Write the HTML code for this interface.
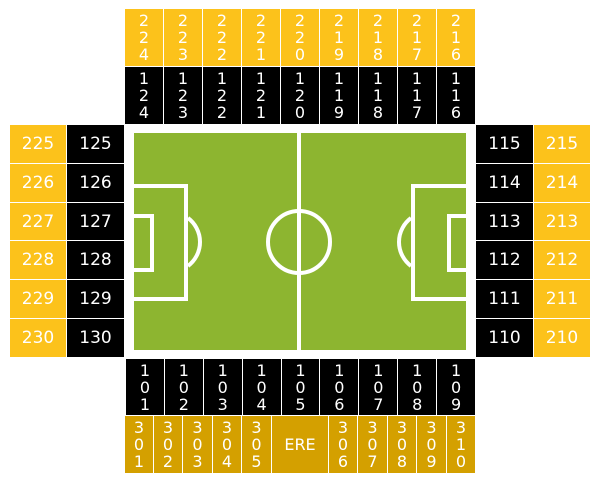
<!DOCTYPE html>
<html><head><meta charset="utf-8"><style>
body{margin:0;width:600px;height:483px;background:#fff;position:relative;overflow:hidden;font-family:"DejaVu Sans","Liberation Sans",sans-serif;color:#fff}
.row{position:absolute;display:flex}
.row div{flex:1;box-sizing:border-box;border-right:1px solid #fff;display:flex;align-items:center;justify-content:center;text-align:center;font-size:16px;line-height:17px}
.row div:last-child{border-right:none}
.col{position:absolute;display:flex;flex-direction:column}
.col div{flex:1;box-sizing:border-box;border-bottom:1px solid #fff;display:flex;align-items:center;justify-content:center;font-size:17px}
.col div:last-child{border-bottom:none}
.y{background:#fcc21b}.k{background:#000}.g{background:#d4a000}
</style></head><body>
<div class="row y" style="left:125px;top:9px;width:350px;height:57px">
<div>2<br>2<br>4</div><div>2<br>2<br>3</div><div>2<br>2<br>2</div><div>2<br>2<br>1</div><div>2<br>2<br>0</div><div>2<br>1<br>9</div><div>2<br>1<br>8</div><div>2<br>1<br>7</div><div>2<br>1<br>6</div></div>
<div class="row k" style="left:125px;top:67px;width:350px;height:57px">
<div>1<br>2<br>4</div><div>1<br>2<br>3</div><div>1<br>2<br>2</div><div>1<br>2<br>1</div><div>1<br>2<br>0</div><div>1<br>1<br>9</div><div>1<br>1<br>8</div><div>1<br>1<br>7</div><div>1<br>1<br>6</div></div>
<div class="col y" style="left:10px;top:125px;width:56px;height:232px"><div>225</div><div>226</div><div>227</div><div>228</div><div>229</div><div>230</div></div>
<div class="col k" style="left:67px;top:125px;width:57px;height:232px"><div>125</div><div>126</div><div>127</div><div>128</div><div>129</div><div>130</div></div>
<div class="col k" style="left:476px;top:125px;width:57px;height:232px"><div>115</div><div>114</div><div>113</div><div>112</div><div>111</div><div>110</div></div>
<div class="col y" style="left:534px;top:125px;width:56px;height:232px"><div>215</div><div>214</div><div>213</div><div>212</div><div>211</div><div>210</div></div>
<svg style="position:absolute;left:0;top:0" width="600" height="483">
<rect x="134" y="133" width="332" height="217" fill="#8db530"/>
<g fill="none" stroke="#fff" stroke-width="4">
<line x1="299" y1="133" x2="299" y2="350"/>
<circle cx="299" cy="242" r="31"/>
<rect x="132" y="186" width="54" height="113"/>
<rect x="132" y="216" width="20" height="54"/>
<path d="M188 218 A30 30 0 0 1 188 266"/>
<rect x="413" y="186" width="56" height="113"/>
<rect x="449" y="216" width="20" height="54"/>
<path d="M411 218 A30 30 0 0 0 411 266"/>
</g></svg>
<div class="row k" style="left:126px;top:359px;width:349px;height:56px">
<div>1<br>0<br>1</div><div>1<br>0<br>2</div><div>1<br>0<br>3</div><div>1<br>0<br>4</div><div>1<br>0<br>5</div><div>1<br>0<br>6</div><div>1<br>0<br>7</div><div>1<br>0<br>8</div><div>1<br>0<br>9</div></div>
<div class="row g" style="left:125px;top:416px;width:350px;height:57px">
<div style="flex:none;width:29px">3<br>0<br>1</div><div style="flex:none;width:29px">3<br>0<br>2</div><div style="flex:none;width:30px">3<br>0<br>3</div><div style="flex:none;width:29px">3<br>0<br>4</div><div style="flex:none;width:30px">3<br>0<br>5</div><div style="flex:none;width:57px">ERE</div><div style="flex:none;width:29px">3<br>0<br>6</div><div style="flex:none;width:30px">3<br>0<br>7</div><div style="flex:none;width:29px">3<br>0<br>8</div><div style="flex:none;width:30px">3<br>0<br>9</div><div>3<br>1<br>0</div></div>
</body></html>
